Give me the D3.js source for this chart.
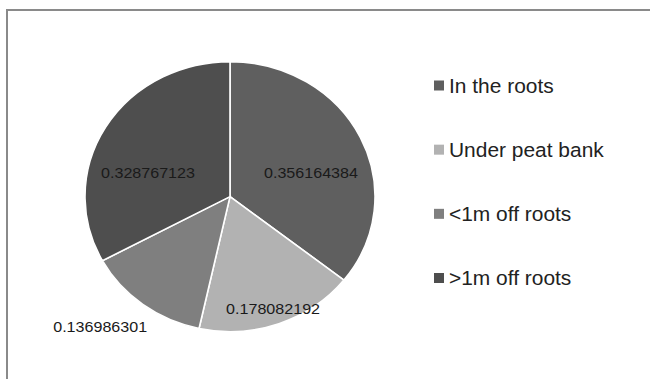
<!DOCTYPE html>
<html>
<head>
<meta charset="utf-8">
<script src="https://cdn.jsdelivr.net/npm/d3@7"></script>
<style>
  html, body { margin: 0; padding: 0; background: #fff; }
  svg { display: block; }
  text { font-family: "Liberation Sans", Arial, sans-serif; }
</style>
</head>
<body>
<svg id="chart" width="650" height="379"></svg>
<script>
// Share of observations by location
const categories = ["In the roots", "Under peat bank", "<1m off roots", ">1m off roots"];
const values = [0.356164384, 0.178082192, 0.136986301, 0.328767123];
const valueLabels = ["0.356164384", "0.178082192", "0.136986301", "0.328767123"];
const colors = ["#5f5f5f", "#b2b2b2", "#7f7f7f", "#4e4e4e"];

const svg = d3.select("#chart");

// outer frame (runs past the right and bottom edges)
svg.append("rect")
  .attr("x", 7).attr("y", 10)
  .attr("width", 700).attr("height", 400)
  .attr("fill", "#fff")
  .attr("stroke", "#8a8a8a")
  .attr("stroke-width", 2);

// pie geometry: drawn slightly wider than tall
const cx = 230, cy = 196.6, ry = 135, rx = 145;
const stretch = rx / ry;

const pie = d3.pie().sort(null).value(d => d)(values);
const arc = d3.arc().innerRadius(0).outerRadius(ry);

const g = svg.append("g")
  .attr("transform", `translate(${cx},${cy}) scale(${stretch},1)`);

g.selectAll("path.slice")
  .data(pie)
  .join("path")
  .attr("class", "slice")
  .attr("d", arc)
  .attr("fill", (d, i) => colors[i])
  .attr("stroke", "#fff")
  .attr("stroke-width", 1.6)
  .attr("vector-effect", "non-scaling-stroke");

// value labels: centroid of a label ring, then a best-fit nudge
const ringFraction = [0.6, 0.88, 1.316, 0.6];
const nudge = [[2.5, 11.4], [0, 0], [-14, -12], [-6.8, 17.5]];

g.selectAll("text.val")
  .data(pie)
  .join("text")
  .attr("class", "val")
  .each(function (d, i) {
    const r = ry * ringFraction[i];
    const c = d3.arc().innerRadius(r).outerRadius(r).centroid(d);
    d3.select(this)
      .attr("x", c[0] + nudge[i][0])
      .attr("y", c[1] + nudge[i][1]);
  })
  .attr("text-anchor", "middle")
  .attr("dominant-baseline", "central")
  .attr("font-size", 15)
  .attr("fill", "#1a1a1a")
  .text((d, i) => valueLabels[i]);

// legend
const legendY = d3.scalePoint()
  .domain(categories)
  .range([85.5, 278]);

const legend = svg.append("g");
const items = legend.selectAll("g.item")
  .data(categories)
  .join("g")
  .attr("class", "item")
  .attr("transform", d => `translate(434,${legendY(d)})`);

items.append("rect")
  .attr("x", 0).attr("y", -5)
  .attr("width", 10).attr("height", 10)
  .attr("fill", (d, i) => colors[i]);

items.append("text")
  .attr("transform", `translate(15,7) scale(${stretch},1)`)
  .attr("font-size", 19.5)
  .attr("fill", "#222")
  .text(d => d);
</script>
</body>
</html>
